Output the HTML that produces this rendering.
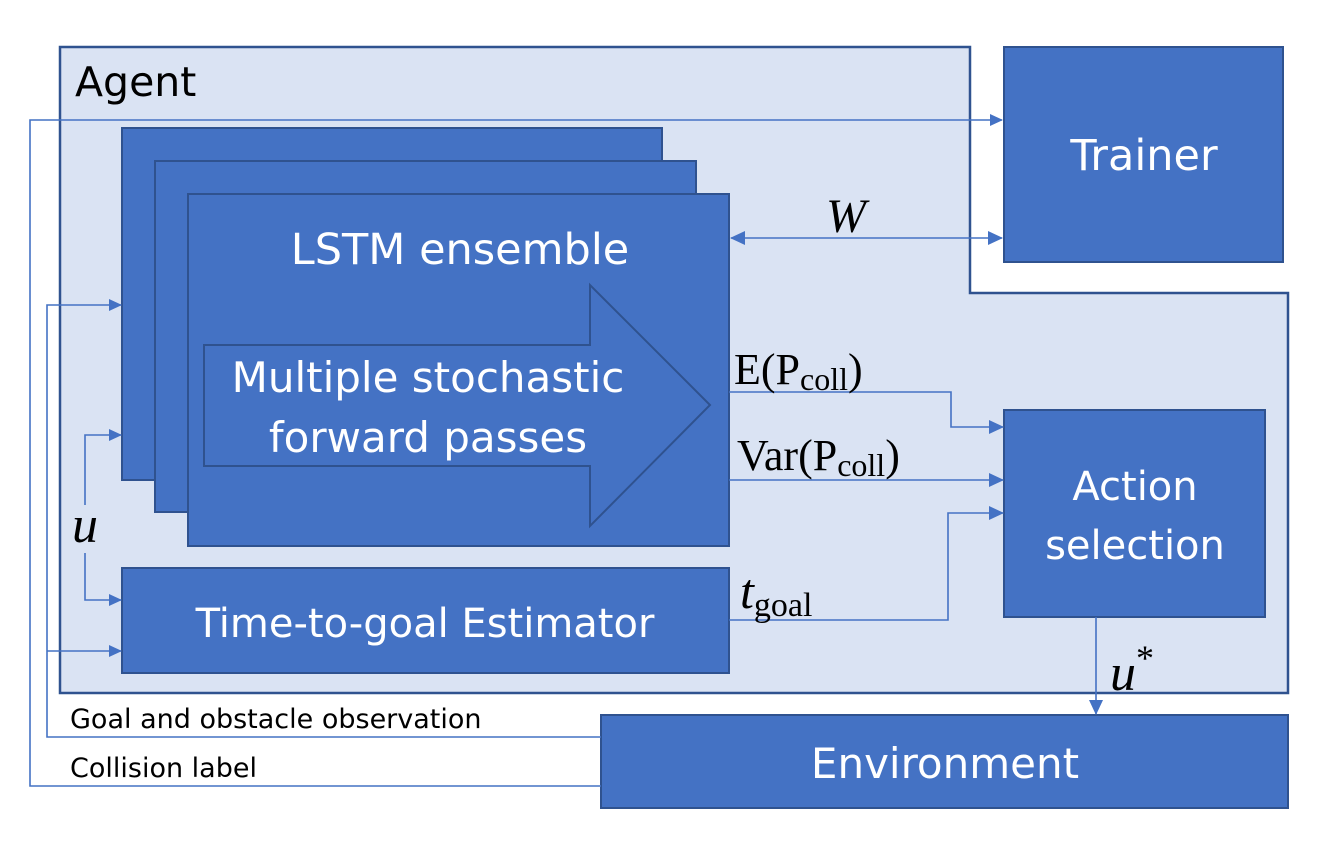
<!DOCTYPE html>
<html><head><meta charset="utf-8"><style>
html,body{margin:0;padding:0;background:#fff}
svg{display:block}
.s{font-family:"DejaVu Sans","Liberation Sans",sans-serif;fill:#fff}
.m{font-family:"Liberation Serif",serif;fill:#000}
.l{font-family:"DejaVu Sans","Liberation Sans",sans-serif;fill:#000}
</style></head><body>
<svg width="1330" height="860" viewBox="0 0 1330 860" xmlns="http://www.w3.org/2000/svg">
<defs>
<marker id="a" markerWidth="14" markerHeight="12" refX="12" refY="6" orient="auto-start-reverse" markerUnits="userSpaceOnUse"><path d="M0,0 L13,6 L0,12 z" fill="#4472C4"/></marker>
<marker id="b" markerWidth="16" markerHeight="14" refX="14" refY="7" orient="auto-start-reverse" markerUnits="userSpaceOnUse"><path d="M0,0 L15,7 L0,14 z" fill="#4472C4"/></marker>
</defs>
<polygon points="60,47 970,47 970,293 1288,293 1288,693 60,693" fill="#DAE3F3" stroke="#2F528F" stroke-width="2.5"/>
<text x="75" y="96" class="l" font-size="41">Agent</text>
<rect x="1004" y="47" width="279" height="215" fill="#4472C4" stroke="#2F528F" stroke-width="2"/>
<text x="1144" y="170" class="s" font-size="43" text-anchor="middle">Trainer</text>
<rect x="122" y="128" width="540" height="352" fill="#4472C4" stroke="#2F528F" stroke-width="2"/>
<rect x="155" y="161" width="541" height="351" fill="#4472C4" stroke="#2F528F" stroke-width="2"/>
<rect x="188" y="194" width="541" height="352" fill="#4472C4" stroke="#2F528F" stroke-width="2"/>
<text x="460" y="264" class="s" font-size="43" text-anchor="middle">LSTM ensemble</text>
<polygon points="204,345 590,345 590,285 710,405 590,526 590,466 204,466" fill="#4472C4" stroke="#2F528F" stroke-width="2"/>
<text x="428" y="392" class="s" font-size="42" text-anchor="middle">Multiple stochastic</text>
<text x="428" y="452" class="s" font-size="42" text-anchor="middle">forward passes</text>
<rect x="122" y="568" width="607" height="105" fill="#4472C4" stroke="#2F528F" stroke-width="2"/>
<text x="425" y="637" class="s" font-size="40" text-anchor="middle">Time-to-goal Estimator</text>
<rect x="1004" y="410" width="261" height="207" fill="#4472C4" stroke="#2F528F" stroke-width="2"/>
<text x="1135" y="500" class="s" font-size="40" text-anchor="middle">Action</text>
<text x="1135" y="559" class="s" font-size="40" text-anchor="middle">selection</text>
<rect x="601" y="715" width="687" height="93" fill="#4472C4" stroke="#2F528F" stroke-width="2"/>
<text x="945" y="778" class="s" font-size="42" text-anchor="middle">Environment</text>
<g fill="none" stroke="#4472C4" stroke-width="1.6">
<polyline points="601,786 30,786 30,120 1002,120" marker-end="url(#a)"/>
<polyline points="601,737 47,737 47,305 121,305" marker-end="url(#a)"/>
<polyline points="47,651 121,651" marker-end="url(#a)"/>
<polyline points="85,505 85,435 121,435" marker-end="url(#a)"/>
<polyline points="85,553 85,600 121,600" marker-end="url(#a)"/>
<line x1="731" y1="238" x2="1002" y2="238" marker-end="url(#b)" marker-start="url(#b)"/>
<polyline points="729,392 951,392 951,427 1003,427" marker-end="url(#b)"/>
<polyline points="729,480 1003,480" marker-end="url(#b)"/>
<polyline points="729,620 948,620 948,513 1003,513" marker-end="url(#b)"/>
<polyline points="1096,617 1096,714" marker-end="url(#b)"/>
</g>
<text x="826" y="232" class="m" font-size="48" font-style="italic">W</text>
<text x="734" y="384" class="m" font-size="44">E(P<tspan font-size="32" dy="6">coll</tspan><tspan dy="-6">)</tspan></text>
<text x="737" y="470" class="m" font-size="44">Var(P<tspan font-size="32" dy="6">coll</tspan><tspan dy="-6">)</tspan></text>
<text x="740" y="608" class="m" font-size="50" font-style="italic">t<tspan font-size="34" font-style="normal" dy="8">goal</tspan></text>
<text x="72" y="542" class="m" font-size="52" font-style="italic">u</text>
<text x="1110" y="690" class="m" font-size="52" font-style="italic">u<tspan font-size="36" font-style="normal" dy="-20">*</tspan></text>
<text x="70" y="728" class="l" font-size="27">Goal and obstacle observation</text>
<text x="70" y="777" class="l" font-size="27">Collision label</text>
</svg>
</body></html>
